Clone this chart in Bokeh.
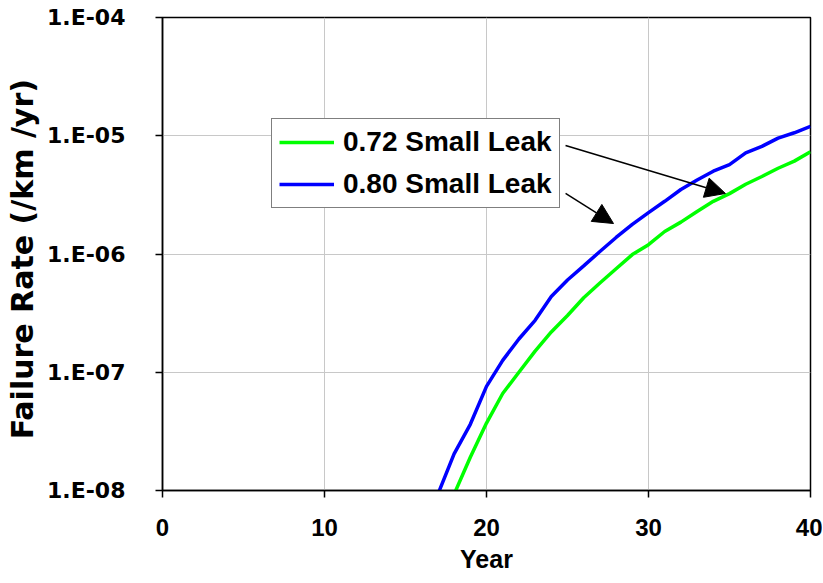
from bokeh.plotting import figure
from bokeh.models import (FixedTicker, CustomJSTickFormatter, Legend, LegendItem,
                          Arrow, NormalHead, Range1d)
from bokeh.embed import file_html
from bokeh.resources import INLINE

# ---- data ----
years_080 = [17, 18, 19, 20, 21, 22, 23, 24, 25, 26, 27, 28, 29, 30,
             31, 32, 33, 34, 35, 36, 37, 38, 39, 40]
rate_080 = [9.3e-9, 2.04e-8, 3.63e-8, 7.6e-8, 1.26e-7, 1.91e-7, 2.75e-7, 4.37e-7,
            6.03e-7, 7.94e-7, 1.05e-6, 1.38e-6, 1.78e-6, 2.24e-6, 2.79e-6, 3.51e-6,
            4.22e-6, 5.01e-6, 5.69e-6, 7.16e-6, 8.13e-6, 9.55e-6, 1.06e-5, 1.20e-5]

years_072 = [18, 19, 20, 21, 22, 23, 24, 25, 26, 27, 28, 29, 30,
             31, 32, 33, 34, 35, 36, 37, 38, 39, 40]
rate_072 = [9.3e-9, 1.91e-8, 3.72e-8, 6.61e-8, 1.0e-7, 1.51e-7, 2.19e-7, 3.02e-7,
            4.27e-7, 5.69e-7, 7.50e-7, 9.89e-7, 1.20e-6, 1.55e-6, 1.86e-6, 2.29e-6,
            2.79e-6, 3.24e-6, 3.89e-6, 4.52e-6, 5.31e-6, 6.10e-6, 7.33e-6]

series_labels = ["0.72 Small Leak", "0.80 Small Leak"]
x_ticks = [0, 10, 20, 30, 40]
y_ticks = [1e-8, 1e-7, 1e-6, 1e-5, 1e-4]

# annotation arrows (legend -> curves), data coordinates
arrow_x_start = [24.88, 24.88]
arrow_y_start = [8.28e-6, 3.25e-6]
arrow_x_end = [34.75, 27.84]
arrow_y_end = [3.25e-6, 1.81e-6]

p = figure(output_backend="svg", toolbar_location=None,
           y_axis_type="log",
           x_range=Range1d(0, 40), y_range=Range1d(1e-8, 1e-4),
           frame_width=648, frame_height=473,
           min_border_left=162, min_border_right=12,
           min_border_top=17, min_border_bottom=80)

p.background_fill_color = "white"
p.border_fill_color = "white"
p.outline_line_color = "black"
p.outline_line_width = 1.5

g = p.line(years_072, rate_072, line_color="#00ff00", line_width=3.5)
b = p.line(years_080, rate_080, line_color="#0000ff", line_width=3.5)

# axes
p.xaxis.ticker = FixedTicker(ticks=x_ticks, minor_ticks=[])
p.yaxis.ticker = FixedTicker(ticks=y_ticks, minor_ticks=[])
p.yaxis.formatter = CustomJSTickFormatter(code="""
    const e = Math.round(-Math.log10(tick));
    return "1.E-" + String(e).padStart(2, "0");
""")

for ax in (p.xaxis[0], p.yaxis[0]):
    ax.axis_line_color = "black"
    ax.axis_line_width = 1.5
    ax.major_tick_line_color = "black"
    ax.major_tick_line_width = 1.5
    ax.major_tick_in = 0
    ax.major_tick_out = 7
    ax.minor_tick_line_color = None
    ax.major_label_text_color = "black"
    ax.axis_label_text_color = "black"
    ax.major_label_text_font_style = "bold"
    ax.axis_label_text_font_style = "bold"

p.xaxis.axis_label = "Year"
p.xaxis.major_label_text_font = "Liberation Sans"
p.xaxis.major_label_text_font_size = "24px"
p.xaxis.axis_label_text_font = "Liberation Sans"
p.xaxis.axis_label_text_font_size = "25px"
p.xaxis.major_label_standoff = 21
p.xaxis.axis_label_standoff = 6

p.yaxis.axis_label = "Failure Rate  (/km /yr)"
p.yaxis.major_label_text_font = "DejaVu Sans"
p.yaxis.major_label_text_font_size = "22px"
p.yaxis.axis_label_text_font = "DejaVu Sans"
p.yaxis.axis_label_text_font_size = "30px"
p.yaxis.major_label_standoff = 30
p.yaxis.axis_label_standoff = 4

p.xgrid.grid_line_color = "#c8c8c8"
p.ygrid.grid_line_color = "#c8c8c8"
p.xgrid.grid_line_width = 1
p.ygrid.grid_line_width = 1

# arrows
for xs, ys, xe, ye in zip(arrow_x_start, arrow_y_start, arrow_x_end, arrow_y_end):
    p.add_layout(Arrow(end=NormalHead(size=20, fill_color="black", line_color="black"),
                       x_start=xs, y_start=ys, x_end=xe, y_end=ye,
                       line_color="black", line_width=1.5))

legend = Legend(items=[LegendItem(label=series_labels[0], renderers=[g]),
                       LegendItem(label=series_labels[1], renderers=[b])],
                location=(109, 282))
legend.border_line_color = "black"
legend.border_line_width = 1
legend.background_fill_color = "white"
legend.background_fill_alpha = 1
legend.label_text_font = "Liberation Sans"
legend.label_text_font_style = "bold"
legend.label_text_font_size = "28px"
legend.label_text_color = "black"
legend.glyph_width = 55
legend.glyph_height = 30
legend.label_standoff = 9
legend.spacing = 10
legend.padding = 7
legend.margin = 0
p.add_layout(legend, "center")

open("out.html", "w").write(file_html(p, INLINE))
